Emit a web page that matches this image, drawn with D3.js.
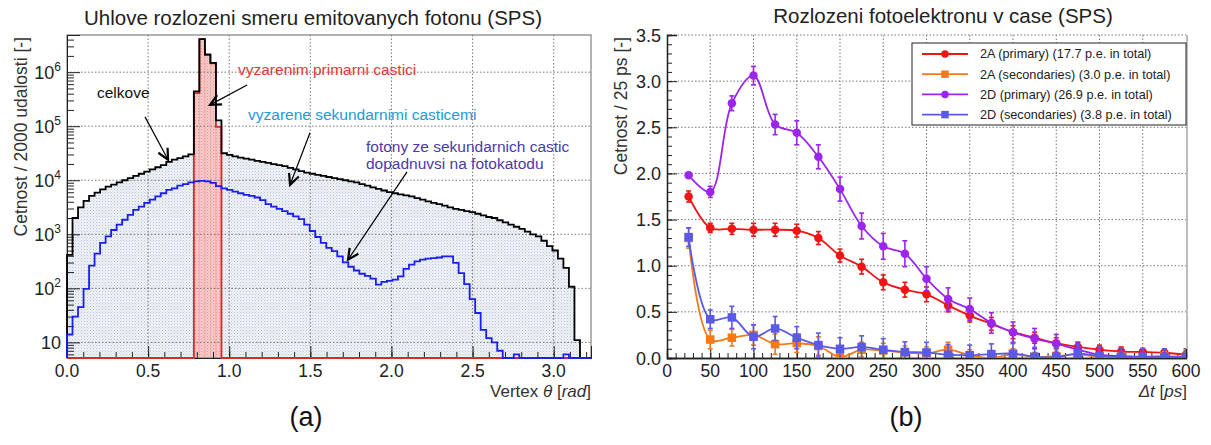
<!DOCTYPE html>
<html>
<head>
<meta charset="utf-8">
<script src="https://cdn.jsdelivr.net/npm/d3@7"></script>
<style>
  body { margin: 0; background: #fff; }
  svg { display: block; font-family: "Liberation Sans", Arial, Helvetica, sans-serif; }
</style>
</head>
<body>
<svg id="fig" width="1211" height="445"></svg>
<script>
// ---------------- Panel (a): emission angle of photons ----------------
const thetaRange = [0, 3.23];      // rad, 95 bins
const thetaBinWidth = 0.034;

// all photons (counts per bin / 2000 events)
const totalCounts = [
  417, 2000, 3160, 4170, 5130, 5890, 6760, 7590, 8320, 9120,
  10000, 10960, 12020, 13180, 14450, 15850, 17380, 19050, 21880, 23990,
  25700, 27540, 30200, 440000, 4100000, 2120000, 1480000, 128000, 31620, 29510,
  27540, 26300, 25120, 23990, 22910, 21880, 20890, 19950, 19050, 18200,
  16980, 15850, 14790, 13800, 13180, 12590, 12020, 11480, 10960, 10470,
  10000, 9550, 9120, 8510, 7940, 7410, 6920, 6460, 6030, 5750,
  5500, 5250, 5010, 4680, 4370, 4070, 3800, 3630, 3390, 3160,
  2950, 2820, 2690, 2570, 2400, 2240, 2090, 2000, 1820, 1660,
  1510, 1380, 1260, 1120, 1000, 912, 759, 603, 501, 355,
  240, 107, 11, 0, 0
];

// photons emitted by the primary particle
const primaryCounts = [
  0, 0, 0, 0, 0, 0, 0, 0, 0, 0,
  0, 0, 0, 0, 0, 0, 0, 0, 0, 0,
  0, 0, 0, 410000, 4070000, 2090000, 1450000, 97000, 0, 0,
  0, 0, 0, 0, 0, 0, 0, 0, 0, 0,
  0, 0, 0, 0, 0, 0, 0, 0, 0, 0,
  0, 0, 0, 0, 0, 0, 0, 0, 0, 0,
  0, 0, 0, 0, 0, 0, 0, 0, 0, 0,
  0, 0, 0, 0, 0, 0, 0, 0, 0, 0,
  0, 0, 0, 0, 0, 0, 0, 0, 0, 0,
  0, 0, 0, 0, 0
];

// photons from secondaries that reached the photocathode
const secondaryCounts = [
  14, 30, 45, 98, 263, 437, 692, 912, 1200, 1510,
  1860, 2290, 2820, 3240, 3800, 4370, 5010, 5750, 6610, 7080,
  7940, 8510, 9120, 9550, 9770, 9550, 8910, 7760, 7080, 6610,
  6170, 5750, 5370, 5130, 4790, 4270, 3630, 3240, 2950, 2690,
  2400, 2140, 1910, 1510, 1150, 891, 692, 562, 490, 389,
  302, 251, 214, 186, 170, 151, 117, 132, 138, 145,
  166, 229, 275, 316, 339, 355, 363, 372, 389, 389,
  295, 191, 120, 63, 35, 17, 12, 10, 7, 0,
  0, 6, 0, 0, 0, 0, 0, 0, 0, 0,
  6, 0, 0, 0, 0
];

const thetaTicks = [0, 0.5, 1.0, 1.5, 2.0, 2.5, 3.0];
const countDecades = [10, 100, 1000, 10000, 100000, 1000000];

// ---------------- Panel (b): photoelectron arrival time ----------------
const timeBins = [25, 50, 75, 100, 125, 150, 175, 200, 225, 250, 275, 300,
                  325, 350, 375, 400, 425, 450, 475, 500, 525, 550, 575, 600];

const pe2APrimary = [1.75, 1.41, 1.40, 1.39, 1.39, 1.38, 1.30, 1.11, 0.99, 0.82, 0.74, 0.69,
                     0.57, 0.46, 0.37, 0.28, 0.22, 0.16, 0.12, 0.09, 0.07, 0.065, 0.057, 0.036];
const pe2APrimaryErr = [0.06, 0.05, 0.06, 0.07, 0.07, 0.07, 0.07, 0.07, 0.08, 0.08, 0.08, 0.08,
                        0.07, 0.07, 0.07, 0.07, 0.06, 0.06, 0.05, 0.05, 0.05, 0.04, 0.04, 0.04];

const pe2ASecondary = [1.30, 0.20, 0.22, 0.25, 0.15, 0.16, 0.13, 0.01, 0.09, 0.08, 0.06, 0.05,
                       0.09, 0.03, 0.00, 0.04, 0.01, 0.02, 0.04, 0.01, 0.02, 0.01, 0.02, 0.01];
const pe2ASecondaryErr = [0.11, 0.10, 0.09, 0.11, 0.11, 0.10, 0.10, 0.06, 0.08, 0.08, 0.07, 0.07,
                          0.08, 0.06, 0.05, 0.06, 0.05, 0.05, 0.06, 0.05, 0.05, 0.05, 0.05, 0.05];

const pe2DPrimary = [1.98, 1.80, 2.76, 3.06, 2.53, 2.44, 2.18, 1.83, 1.43, 1.21, 1.13, 0.86,
                     0.64, 0.53, 0.38, 0.28, 0.21, 0.155, 0.09, 0.036, 0.02, 0.014, 0.014, 0.01];
const pe2DPrimaryErr = [0.03, 0.06, 0.08, 0.10, 0.11, 0.13, 0.13, 0.13, 0.14, 0.14, 0.14, 0.13,
                        0.12, 0.12, 0.11, 0.11, 0.11, 0.10, 0.08, 0.06, 0.05, 0.05, 0.04, 0.04];

const pe2DSecondary = [1.31, 0.42, 0.44, 0.23, 0.32, 0.22, 0.14, 0.10, 0.12, 0.09, 0.065, 0.06,
                       0.036, 0.03, 0.043, 0.047, 0.014, 0.01, 0.047, 0.02, 0.01, 0.01, 0.01, 0.01];
const pe2DSecondaryErr = [0.10, 0.10, 0.12, 0.13, 0.13, 0.12, 0.13, 0.12, 0.12, 0.12, 0.11, 0.11,
                          0.11, 0.11, 0.11, 0.11, 0.10, 0.10, 0.10, 0.10, 0.10, 0.09, 0.09, 0.09];

const seriesNames = [
  "2A (primary) (17.7 p.e. in total)",
  "2A (secondaries) (3.0 p.e. in total)",
  "2D (primary) (26.9 p.e. in total)",
  "2D (secondaries) (3.8 p.e. in total)"
];
const seriesColors = ["#f01414", "#f27a1c", "#9b25ec", "#5a5ae6"];
const seriesMarkers = ["circle", "square", "circle", "square"];

const timeTicks = d3.range(0, 601, 50);
const rateTicks = [0, 0.5, 1.0, 1.5, 2.0, 2.5, 3.0, 3.5];

// ======================================================================
const svg = d3.select("#fig");
const defs = svg.append("defs");

// dotted fills
const pTot = defs.append("pattern").attr("id", "dotsBlue").attr("patternUnits", "userSpaceOnUse")
  .attr("width", 3).attr("height", 3);
pTot.append("rect").attr("width", 3).attr("height", 3).attr("fill", "#eef2f7");
pTot.append("rect").attr("width", 1).attr("height", 1).attr("fill", "#b9c5d4");
pTot.append("rect").attr("x", 1.5).attr("y", 1.5).attr("width", 1).attr("height", 1).attr("fill", "#cfd8e3");

const pRed = defs.append("pattern").attr("id", "dotsRed").attr("patternUnits", "userSpaceOnUse")
  .attr("width", 3).attr("height", 3);
pRed.append("rect").attr("width", 3).attr("height", 3).attr("fill", "#f8caca");
pRed.append("rect").attr("width", 1).attr("height", 1).attr("fill", "#e79494");
pRed.append("rect").attr("x", 1.5).attr("y", 1.5).attr("width", 1).attr("height", 1).attr("fill", "#eeaaaa");

// ---------------- panel (a) ----------------
const xA = d3.scaleLinear().domain(thetaRange).range([67, 591]);
const yA = d3.scaleLog().domain([5.14, 4.87e6]).range([358, 35]).clamp(true);
const baseA = yA.range()[0];
const yAv = v => (v > 0 ? yA(v) : baseA);

function histPoints(counts) {
  const pts = [[xA(0), baseA]];
  counts.forEach((v, i) => {
    pts.push([xA(i * thetaBinWidth), yAv(v)], [xA((i + 1) * thetaBinWidth), yAv(v)]);
  });
  pts.push([xA(counts.length * thetaBinWidth), baseA]);
  return pts;
}
const lineGen = d3.line();

const gA = svg.append("g");

// fills
gA.append("path").attr("d", lineGen(histPoints(totalCounts)) + "Z").attr("fill", "url(#dotsBlue)");
primaryCounts.forEach((v, i) => {
  if (v > 0) {
    gA.append("rect")
      .attr("x", xA(i * thetaBinWidth)).attr("width", xA((i + 1) * thetaBinWidth) - xA(i * thetaBinWidth))
      .attr("y", yA(v)).attr("height", baseA - yA(v))
      .attr("fill", "url(#dotsRed)").attr("stroke", "#eba3a3").attr("stroke-width", 0.6);
  }
});

// grid
const gridA = gA.append("g").attr("stroke", "#777").attr("stroke-width", 1).attr("stroke-dasharray", "1.5,2");
thetaTicks.filter(t => t > 0).forEach(t => {
  gridA.append("line").attr("x1", xA(t)).attr("x2", xA(t)).attr("y1", 35).attr("y2", baseA);
});
countDecades.forEach(c => {
  gridA.append("line").attr("x1", 67).attr("x2", 591).attr("y1", yA(c)).attr("y2", yA(c));
});

// frame
gA.append("rect").attr("x", 67).attr("y", 35).attr("width", 524).attr("height", baseA - 35)
  .attr("fill", "none").attr("stroke", "#8a8a8a").attr("stroke-width", 1.3);

// axes with inward ticks
const axA_x = gA.append("g").attr("transform", `translate(0,${baseA})`)
  .call(d3.axisBottom(xA).tickValues(thetaTicks).tickSize(-12).tickFormat(""));
const axA_xm = gA.append("g").attr("transform", `translate(0,${baseA})`)
  .call(d3.axisBottom(xA).tickValues(d3.range(0, 3.21, 0.1)).tickSize(-6).tickFormat(""));
const minorLog = [];
[1, 10, 100, 1000, 10000, 100000, 1000000].forEach(d => {
  for (let m = 2; m <= 9; m++) { const v = m * d; if (v >= 5.14 && v <= 4.87e6) minorLog.push(v); }
});
const axA_y = gA.append("g").attr("transform", "translate(67,0)")
  .call(d3.axisLeft(yA).tickValues(countDecades).tickSize(-13).tickFormat(""));
const axA_ym = gA.append("g").attr("transform", "translate(67,0)")
  .call(d3.axisLeft(yA).tickValues(minorLog).tickSize(-7).tickFormat(""));
[axA_x, axA_xm, axA_y, axA_ym].forEach(a => {
  a.select(".domain").attr("stroke", "#222");
  a.selectAll(".tick line").attr("stroke", "#222");
});

// histogram outlines: primary first, total on top of it, secondaries last
gA.append("path").attr("d", lineGen(histPoints(primaryCounts))).attr("fill", "none")
  .attr("stroke", "#d92a2a").attr("stroke-width", 1.8);
gA.append("path").attr("d", lineGen(histPoints(totalCounts))).attr("fill", "none")
  .attr("stroke", "#000").attr("stroke-width", 1.8);
gA.append("path").attr("d", lineGen(histPoints(secondaryCounts))).attr("fill", "none")
  .attr("stroke", "#1a1ff0").attr("stroke-width", 1.8);

// tick labels
const tickFont = 17.5;
thetaTicks.forEach(t => {
  gA.append("text").attr("x", xA(t)).attr("y", 377).attr("text-anchor", "middle")
    .attr("font-size", tickFont).attr("fill", "#222").text(t.toFixed(1));
});
countDecades.forEach(c => {
  const e = Math.round(Math.log10(c));
  const t = gA.append("text").attr("x", 61).attr("y", yA(c) + 7).attr("text-anchor", "end")
    .attr("font-size", tickFont + 0.5).attr("fill", "#222");
  t.append("tspan").text("10");
  if (e > 1) t.append("tspan").attr("font-size", 12).attr("dy", -8).text(e);
});

// axis titles
const xtA = gA.append("text").attr("x", 591).attr("y", 397).attr("text-anchor", "end")
  .attr("font-size", 17).attr("fill", "#333");
xtA.append("tspan").text("Vertex ");
xtA.append("tspan").attr("font-style", "italic").text("θ");
xtA.append("tspan").text(" [");
xtA.append("tspan").attr("font-style", "italic").text("rad");
xtA.append("tspan").text("]");

gA.append("text").attr("transform", "translate(27,37) rotate(-90)").attr("text-anchor", "end")
  .attr("font-size", 17.5).attr("fill", "#333").text("Cetnost / 2000 udalosti [-]");

gA.append("text").attr("x", 313).attr("y", 25).attr("text-anchor", "middle")
  .attr("font-size", 20.5).attr("fill", "#222").text("Uhlove rozlozeni smeru emitovanych fotonu (SPS)");

gA.append("text").attr("x", 306).attr("y", 426).attr("text-anchor", "middle")
  .attr("font-size", 27).attr("fill", "#111").text("(a)");

// annotations (data coordinates: theta, counts)
const notes = [
  { lines: ["celkove"], color: "#111", at: [0.185, 3.35e5] },
  { lines: ["vyzarenim primarni castici"], color: "#e03a36", at: [1.054, 8.9e5] },
  { lines: ["vyzarene sekundarnimi casticemi"], color: "#1d9bd6", at: [1.116, 1.31e5] },
  { lines: ["fotony ze sekundarnich castic", "dopadnuvsi na fotokatodu"], color: "#4a3aa8", at: [1.843, 3.4e4] }
];
const arrows = [
  { from: [0.481, 1.49e5], to: [0.623, 2.39e4] },
  { from: [1.110, 5.8e5], to: [0.882, 2.48e5] },
  { from: [1.498, 7.55e4], to: [1.375, 8.24e3] },
  { from: [2.096, 1.43e4], to: [1.732, 338] }
];
notes.forEach(n => {
  const t = gA.append("text").attr("x", xA(n.at[0])).attr("y", yA(n.at[1]))
    .attr("font-size", 15.5).attr("fill", n.color);
  n.lines.forEach((l, i) => t.append("tspan").attr("x", xA(n.at[0])).attr("dy", i === 0 ? 0 : 17).text(l));
});
arrows.forEach(a => {
  const x1 = xA(a.from[0]), y1 = yA(a.from[1]), x2 = xA(a.to[0]), y2 = yA(a.to[1]);
  gA.append("line").attr("x1", x1).attr("y1", y1).attr("x2", x2).attr("y2", y2)
    .attr("stroke", "#000").attr("stroke-width", 1.2);
  const ang = Math.atan2(y2 - y1, x2 - x1), L = 12, s = 0.45;
  const p1 = [x2 - L * Math.cos(ang - s), y2 - L * Math.sin(ang - s)];
  const p2 = [x2 - L * Math.cos(ang + s), y2 - L * Math.sin(ang + s)];
  gA.append("path").attr("d", `M${p1}L${x2},${y2}L${p2}`).attr("fill", "none")
    .attr("stroke", "#000").attr("stroke-width", 2.2).attr("stroke-linejoin", "miter");
});

// ---------------- panel (b) ----------------
const xB = d3.scaleLinear().domain([0, 600]).range([667, 1186]);
const yB = d3.scaleLinear().domain([0, 3.5]).range([358, 35]);
const gB = svg.append("g");

defs.append("clipPath").attr("id", "clipB").append("rect")
  .attr("x", 667).attr("y", 35).attr("width", 519).attr("height", 323);

const gridB = gB.append("g").attr("stroke", "#777").attr("stroke-width", 1).attr("stroke-dasharray", "1.5,2");
timeTicks.filter(t => t > 0 && t < 600).forEach(t => {
  gridB.append("line").attr("x1", xB(t)).attr("x2", xB(t)).attr("y1", 35).attr("y2", 358);
});
rateTicks.filter(r => r > 0).forEach(r => {
  gridB.append("line").attr("x1", 667).attr("x2", 1186).attr("y1", yB(r)).attr("y2", yB(r));
});
gB.append("line").attr("x1", 1187).attr("x2", 1187).attr("y1", 35).attr("y2", 358)
  .attr("stroke", "#999").attr("stroke-width", 1.3);

const axB_x = gB.append("g").attr("transform", "translate(0,358)")
  .call(d3.axisBottom(xB).tickValues(timeTicks).tickSize(-9).tickFormat(""));
const axB_xm = gB.append("g").attr("transform", "translate(0,358)")
  .call(d3.axisBottom(xB).tickValues(d3.range(0, 601, 10)).tickSize(-5).tickFormat(""));
const axB_y = gB.append("g").attr("transform", "translate(667,0)")
  .call(d3.axisLeft(yB).tickValues(rateTicks).tickSize(-10).tickFormat(""));
const axB_ym = gB.append("g").attr("transform", "translate(667,0)")
  .call(d3.axisLeft(yB).tickValues(d3.range(0, 3.51, 0.1)).tickSize(-5).tickFormat(""));
[axB_x, axB_xm, axB_y, axB_ym].forEach(a => {
  a.select(".domain").attr("stroke", "#222").attr("stroke-width", 1.3);
  a.selectAll(".tick line").attr("stroke", "#222");
});

timeTicks.forEach(t => {
  gB.append("text").attr("x", xB(t)).attr("y", 377).attr("text-anchor", "middle")
    .attr("font-size", tickFont).attr("fill", "#222").text(t);
});
rateTicks.forEach(r => {
  gB.append("text").attr("x", 661).attr("y", yB(r) + 6.5).attr("text-anchor", "end")
    .attr("font-size", tickFont + 0.5).attr("fill", "#222").text(r.toFixed(1));
});

const xtB = gB.append("text").attr("x", 1187).attr("y", 397).attr("text-anchor", "end")
  .attr("font-size", 17).attr("fill", "#333");
xtB.append("tspan").attr("font-style", "italic").text("Δt");
xtB.append("tspan").text(" [");
xtB.append("tspan").attr("font-style", "italic").text("ps");
xtB.append("tspan").text("]");

gB.append("text").attr("transform", "translate(627,37) rotate(-90)").attr("text-anchor", "end")
  .attr("font-size", 17.5).attr("fill", "#333").text("Cetnost / 25 ps [-]");

gB.append("text").attr("x", 943).attr("y", 23).attr("text-anchor", "middle")
  .attr("font-size", 20.5).attr("fill", "#222").text("Rozlozeni fotoelektronu v case (SPS)");

gB.append("text").attr("x", 906).attr("y", 426).attr("text-anchor", "middle")
  .attr("font-size", 27).attr("fill", "#111").text("(b)");

const seriesVals = [pe2APrimary, pe2ASecondary, pe2DPrimary, pe2DSecondary];
const seriesErrs = [pe2APrimaryErr, pe2ASecondaryErr, pe2DPrimaryErr, pe2DSecondaryErr];
const curve = d3.line().x(d => xB(d[0])).y(d => yB(d[1])).curve(d3.curveCatmullRom.alpha(0.5));

function drawMarker(g, kind, cx, cy, color, size) {
  if (kind === "circle") {
    g.append("circle").attr("cx", cx).attr("cy", cy).attr("r", size * 0.5).attr("fill", color);
  } else {
    g.append("rect").attr("x", cx - size / 2).attr("y", cy - size / 2)
      .attr("width", size).attr("height", size).attr("fill", color);
  }
}

const plotB = gB.append("g").attr("clip-path", "url(#clipB)");
seriesVals.forEach((vals, k) => {
  const col = seriesColors[k];
  const g = plotB.append("g");
  const pts = timeBins.map((t, i) => [t, vals[i]]);
  g.append("path").attr("d", curve(pts)).attr("fill", "none").attr("stroke", col).attr("stroke-width", 1.8);
  timeBins.forEach((t, i) => {
    const cx = xB(t), lo = yB(vals[i] - seriesErrs[k][i]), hi = yB(vals[i] + seriesErrs[k][i]);
    g.append("line").attr("x1", cx).attr("x2", cx).attr("y1", lo).attr("y2", hi)
      .attr("stroke", col).attr("stroke-width", 1.6);
    [lo, hi].forEach(yy => g.append("line").attr("x1", cx - 2.5).attr("x2", cx + 2.5)
      .attr("y1", yy).attr("y2", yy).attr("stroke", col).attr("stroke-width", 1.6));
    drawMarker(g, seriesMarkers[k], cx, yB(vals[i]), col, 8.5);
  });
});

// legend
const leg = gB.append("g");
leg.append("rect").attr("x", 912).attr("y", 43).attr("width", 274).attr("height", 82)
  .attr("fill", "#fff").attr("stroke", "#222").attr("stroke-width", 1);
seriesNames.forEach((name, k) => {
  const y = 54 + k * 20.2;
  leg.append("line").attr("x1", 922).attr("x2", 968).attr("y1", y).attr("y2", y)
    .attr("stroke", seriesColors[k]).attr("stroke-width", 1.8);
  drawMarker(leg, seriesMarkers[k], 945, y, seriesColors[k], 7.5);
  leg.append("text").attr("x", 980).attr("y", y + 4.3).attr("font-size", 12.7).attr("fill", "#222").text(name);
});
</script>
</body>
</html>
